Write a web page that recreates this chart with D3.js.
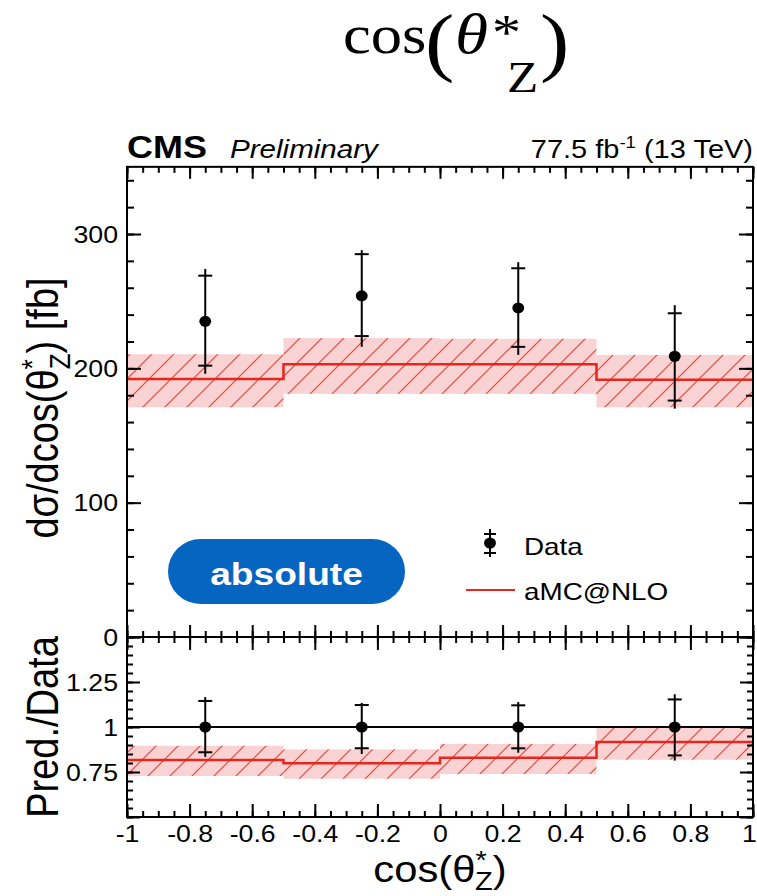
<!DOCTYPE html>
<html>
<head>
<meta charset="utf-8">
<script src="https://cdn.jsdelivr.net/npm/d3@7"></script>
<style>
  body { margin: 0; background: #fff; }
  svg { display: block; }
</style>
</head>
<body>
<svg id="chart" width="757" height="896"></svg>
<script>
// ---- measured cross section, binned in cos(theta*_Z) ----
const binEdges = [-1, -0.5, 0, 0.5, 1];
const binCenters = [-0.75, -0.25, 0.25, 0.75];
const dataValues = [235, 254, 245, 209];
const dataStatHigh = [269, 285, 274.5, 241];
const dataStatLow = [202, 224, 216, 176];
const dataTotHigh = [274, 288, 279, 247];
const dataTotLow = [196, 216, 210, 170];

// ---- aMC@NLO prediction with its uncertainty band ----
const mcValues = [192, 203, 203, 191.5];
const mcHigh = [210.5, 222.5, 222, 210];
const mcLow = [171, 181, 181, 171];

// ---- axis ticks ----
const xMajorTicks = [-1, -0.8, -0.6, -0.4, -0.2, 0, 0.2, 0.4, 0.6, 0.8, 1];
const upperYTicks = [0, 100, 200, 300];
const ratioYTicks = [0.75, 1, 1.25];

const xMinorTicks = d3.range(-20, 21).map(i => i / 20);
const upperYMajor = [0, 100, 200, 300];
const upperYMinor = d3.range(0, 18).map(i => i * 20);
const ratioYMajor = [0.5, 0.75, 1, 1.25, 1.5];
const ratioYMinor = d3.range(10, 31).map(i => i / 20);

const SX = 1.16;                 // horizontal stretch of all lettering
const SANS = "'Liberation Sans', Arial, Helvetica, sans-serif";
const SERIF = "'Liberation Serif', 'Times New Roman', serif";
const RED = "#e8261c";

const svg = d3.select("#chart");

const X0 = 127, X1 = 753;
const UP_TOP = 166.85, UP_BOT = 637, LO_BOT = 817;

const x = d3.scaleLinear().domain([-1, 1]).range([X0, X1]);
const yTop = d3.scaleLinear().domain([0, 350]).range([UP_BOT, UP_TOP]);
const yRat = d3.scaleLinear().domain([0.5, 1.5]).range([LO_BOT, UP_BOT]);

// hatch used for the prediction band
const defs = svg.append("defs");
const pat = defs.append("pattern")
  .attr("id", "hatch").attr("patternUnits", "userSpaceOnUse")
  .attr("width", 22).attr("height", 22);
pat.append("rect").attr("width", 22).attr("height", 22).attr("fill", "#f9d3d3");
pat.append("path")
  .attr("d", "M-2,2 L2,-2 M0,22 L22,0 M20,24 L24,20")
  .attr("stroke", "#ff3a2e").attr("stroke-width", 1.2);

// stretched text helper
function stext(parent, px, py, str, o = {}) {
  const g = parent.append("g")
    .attr("transform", `translate(${px},${py}) scale(${SX},1)` + (o.rotate ? ` rotate(${o.rotate})` : ""));
  const t = g.append("text")
    .attr("x", 0).attr("y", 0)
    .attr("font-family", o.family || SANS)
    .attr("font-size", o.size || 24)
    .attr("fill", o.fill || "#000")
    .attr("text-anchor", o.anchor || "start");
  if (o.weight) t.attr("font-weight", o.weight);
  if (o.style) t.attr("font-style", o.style);
  if (str !== null) t.text(str);
  return t;
}

// ---------------- title ----------------
const title = svg.append("g");
stext(title, 343, 53, "cos", { family: SERIF, size: 54 });
stext(title, 425, 67, "(", { family: SERIF, size: 76 });
stext(title, 455, 53, "θ", { family: SERIF, size: 58, style: "italic" });
stext(title, 492, 49, "*", { family: SERIF, size: 50 });
stext(title, 507, 92, "Z", { family: SERIF, size: 44 });
stext(title, 540, 67, ")", { family: SERIF, size: 76 });

// ---------------- header ----------------
stext(svg, 127, 158, "CMS", { size: 31, weight: "bold" });
stext(svg, 230, 158, "Preliminary", { size: 25.5, style: "italic" });
const lumi = stext(svg, 753, 158, null, { size: 25, anchor: "end" });
lumi.append("tspan").text("77.5 fb");
lumi.append("tspan").attr("font-size", 16).attr("dy", -10).text("-1");
lumi.append("tspan").attr("dy", 10).text(" (13 TeV)");

// ---------------- upper panel ----------------
const up = svg.append("g");

// prediction band
up.selectAll("rect.band").data(binCenters).join("rect")
  .attr("class", "band")
  .attr("x", (d, i) => x(binEdges[i]))
  .attr("width", (d, i) => x(binEdges[i + 1]) - x(binEdges[i]))
  .attr("y", (d, i) => yTop(mcHigh[i]))
  .attr("height", (d, i) => yTop(mcLow[i]) - yTop(mcHigh[i]))
  .attr("fill", "url(#hatch)");

// prediction step line
function stepPoints(vals) {
  const pts = [];
  vals.forEach((v, i) => { pts.push([binEdges[i], v]); pts.push([binEdges[i + 1], v]); });
  return pts;
}
up.append("path")
  .attr("d", d3.line().x(d => x(d[0])).y(d => yTop(d[1]))(stepPoints(mcValues)))
  .attr("fill", "none").attr("stroke", RED).attr("stroke-width", 2.5);

// data points
function drawData(g, ys, vals, statHi, statLo, totHi, totLo) {
  binCenters.forEach((c, i) => {
    const cx = x(c);
    g.append("line").attr("x1", cx).attr("x2", cx)
      .attr("y1", ys(totHi[i])).attr("y2", ys(totLo[i]))
      .attr("stroke", "#000").attr("stroke-width", 2);
    [statHi[i], statLo[i]].forEach(v => {
      g.append("line").attr("x1", cx - 7).attr("x2", cx + 7)
        .attr("y1", ys(v)).attr("y2", ys(v))
        .attr("stroke", "#000").attr("stroke-width", 2);
    });
    g.append("ellipse").attr("cx", cx).attr("cy", ys(vals[i]))
      .attr("rx", 5.5 * 1.08).attr("ry", 5.5).attr("fill", "#000");
  });
}
drawData(up, yTop, dataValues, dataStatHigh, dataStatLow, dataTotHigh, dataTotLow);

// "absolute" badge
const badge = svg.append("g");
badge.append("rect").attr("x", 168).attr("y", 539).attr("width", 237).attr("height", 65)
  .attr("rx", 32.5).attr("ry", 32.5).attr("fill", "#0565c1");
stext(badge, 286.5, 585, "absolute", { size: 32, weight: "bold", fill: "#fff", anchor: "middle" });

// legend
const leg = svg.append("g");
leg.append("line").attr("x1", 490).attr("x2", 490).attr("y1", 529).attr("y2", 557)
  .attr("stroke", "#000").attr("stroke-width", 2);
[534, 553].forEach(yy => leg.append("line").attr("x1", 484).attr("x2", 496)
  .attr("y1", yy).attr("y2", yy).attr("stroke", "#000").attr("stroke-width", 2));
leg.append("ellipse").attr("cx", 490).attr("cy", 543).attr("rx", 5.5 * 1.08).attr("ry", 5.5).attr("fill", "#000");
stext(leg, 524, 555, "Data", { size: 24 });
leg.append("line").attr("x1", 466).attr("x2", 515).attr("y1", 590).attr("y2", 590)
  .attr("stroke", RED).attr("stroke-width", 2);
stext(leg, 524, 600, "aMC@NLO", { size: 24 });

// ---------------- ratio panel ----------------
const lo = svg.append("g");
const ratio = (arr) => arr.map((v, i) => v / dataValues[i]);

lo.selectAll("rect.band").data(binCenters).join("rect")
  .attr("class", "band")
  .attr("x", (d, i) => x(binEdges[i]))
  .attr("width", (d, i) => x(binEdges[i + 1]) - x(binEdges[i]))
  .attr("y", (d, i) => yRat(ratio(mcHigh)[i]))
  .attr("height", (d, i) => yRat(ratio(mcLow)[i]) - yRat(ratio(mcHigh)[i]))
  .attr("fill", "url(#hatch)");

lo.append("path")
  .attr("d", d3.line().x(d => x(d[0])).y(d => yRat(d[1]))(stepPoints(ratio(mcValues))))
  .attr("fill", "none").attr("stroke", RED).attr("stroke-width", 2.5);

lo.append("line").attr("x1", X0).attr("x2", X1).attr("y1", yRat(1)).attr("y2", yRat(1))
  .attr("stroke", "#000").attr("stroke-width", 2);

drawData(lo, yRat, ratio(dataValues), ratio(dataStatHigh), ratio(dataStatLow),
  ratio(dataTotHigh), ratio(dataTotLow));

// ---------------- axes ----------------
function tickAxis(axisFn, scale, values, len, tx, ty) {
  svg.append("g").attr("transform", `translate(${tx},${ty})`)
    .call(axisFn(scale).tickValues(values).tickSize(-len).tickFormat(""))
    .call(g => g.select(".domain").remove())
    .call(g => g.selectAll("line").attr("stroke", "#000").attr("stroke-width", 2));
}
// upper panel
tickAxis(d3.axisTop, x, xMinorTicks, 6, 0, UP_TOP);
tickAxis(d3.axisTop, x, xMajorTicks, 12, 0, UP_TOP);
tickAxis(d3.axisBottom, x, xMinorTicks, 6, 0, UP_BOT);
tickAxis(d3.axisBottom, x, xMajorTicks, 12, 0, UP_BOT);
tickAxis(d3.axisLeft, yTop, upperYMinor, 7, X0, 0);
tickAxis(d3.axisLeft, yTop, upperYMajor, 14, X0, 0);
tickAxis(d3.axisRight, yTop, upperYMinor, 7, X1, 0);
tickAxis(d3.axisRight, yTop, upperYMajor, 14, X1, 0);
// ratio panel
tickAxis(d3.axisTop, x, xMinorTicks, 6, 0, UP_BOT);
tickAxis(d3.axisTop, x, xMajorTicks, 13, 0, UP_BOT);
tickAxis(d3.axisBottom, x, xMinorTicks, 6, 0, LO_BOT);
tickAxis(d3.axisBottom, x, xMajorTicks, 13, 0, LO_BOT);
tickAxis(d3.axisLeft, yRat, ratioYMinor, 6, X0, 0);
tickAxis(d3.axisLeft, yRat, ratioYMajor, 13, X0, 0);
tickAxis(d3.axisRight, yRat, ratioYMinor, 6, X1, 0);
tickAxis(d3.axisRight, yRat, ratioYMajor, 13, X1, 0);

// tick labels
function labelAxis(axisFn, scale, values, tx, ty, dx, dy, anchor) {
  svg.append("g").attr("transform", `translate(${tx},${ty})`)
    .call(axisFn(scale).tickValues(values).tickSize(0).tickFormat(d => String(d)))
    .call(g => g.select(".domain").remove())
    .call(g => g.selectAll("text")
      .attr("x", 0).attr("y", 0).attr("dy", null)
      .attr("font-family", SANS).attr("font-size", 23).attr("fill", "#000")
      .attr("text-anchor", anchor)
      .attr("transform", d => {
        // keep the last label on the canvas
        const shift = (anchor === "middle" && d === 1) ? -4 : 0;
        return `translate(${dx + shift},${dy}) scale(${SX},1)`;
      }));
}
labelAxis(d3.axisLeft, yTop, upperYTicks, X0, 0, -9, 8, "end");
labelAxis(d3.axisLeft, yRat, ratioYTicks, X0, 0, -9, 8, "end");
labelAxis(d3.axisBottom, x, xMajorTicks, 0, LO_BOT, 0, 25, "middle");

// axis titles
const yt = stext(svg, 58, 408, null, { size: 38, anchor: "middle", rotate: -90 });
yt.append("tspan").text("dσ/dcos(θ");
yt.append("tspan").attr("font-size", 26).attr("dy", -14).text("*");
yt.append("tspan").attr("font-size", 26).attr("dx", -10).attr("dy", 24).text("Z");
yt.append("tspan").attr("dy", -10).text(") [fb]");

stext(svg, 58, 727, "Pred./Data", { size: 38, anchor: "middle", rotate: -90 });

const xt = stext(svg, 440, 882, null, { size: 36, anchor: "middle" });
xt.append("tspan").text("cos(θ");
xt.append("tspan").attr("font-size", 25).attr("dy", -13).text("*");
xt.append("tspan").attr("font-size", 25).attr("dx", -10).attr("dy", 21).text("Z");
xt.append("tspan").attr("dy", -8).text(")");

// frames
svg.append("rect").attr("x", X0).attr("y", UP_TOP).attr("width", X1 - X0).attr("height", UP_BOT - UP_TOP)
  .attr("fill", "none").attr("stroke", "#000").attr("stroke-width", 2);
svg.append("rect").attr("x", X0).attr("y", UP_BOT).attr("width", X1 - X0).attr("height", LO_BOT - UP_BOT)
  .attr("fill", "none").attr("stroke", "#000").attr("stroke-width", 2);
</script>
</body>
</html>
